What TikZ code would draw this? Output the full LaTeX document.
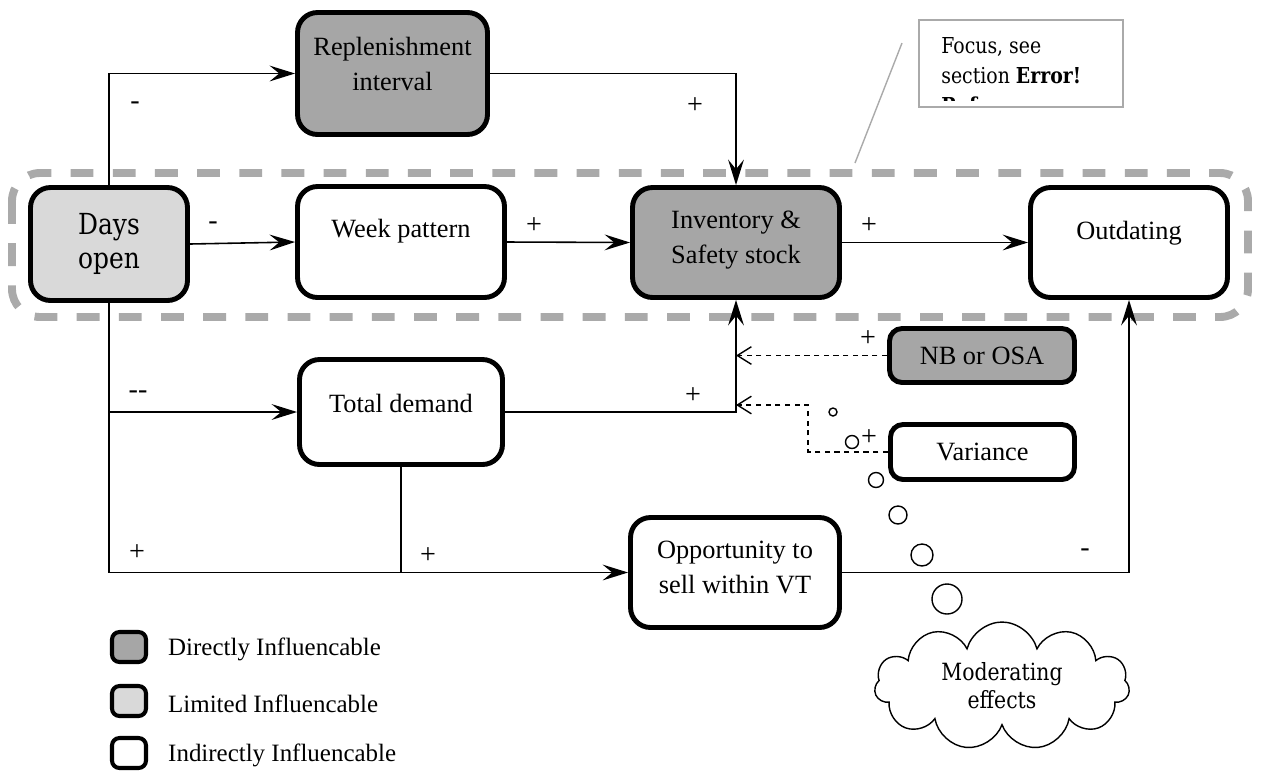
\documentclass[tikz,border=0pt]{standalone}
\usepackage{fontspec}
\setmainfont{Liberation Serif}
\newfontfamily\cambria[FakeStretch=0.86]{DejaVu Serif}
\usepackage{xcolor}
\usetikzlibrary{arrows.meta,shapes,positioning,calc}

\definecolor{dgrey}{HTML}{A6A6A6}
\definecolor{lgrey}{HTML}{D9D9D9}
\definecolor{fgrey}{HTML}{AAAAAA}

\begin{document}
\begin{tikzpicture}[x=0.02cm, y=-0.02cm,
    box/.style={draw, line width=2.8pt, rounded corners=0.4cm, align=center, inner sep=0pt, font=\fontsize{15}{20}\selectfont},
    direct/.style={box, fill=dgrey},
    limited/.style={box, fill=lgrey},
    indirect/.style={box, fill=white},
    flow/.style={-{Stealth[length=14.5pt,width=9pt,inset=5.5pt]}, line width=0.9pt},
    plain/.style={line width=0.9pt},
    moder/.style={-{Straight Barb[length=8pt,width=10pt]}, line width=0.8pt, dash pattern=on 3pt off 2.5pt},
    sign/.style={font=\fontsize{16}{18}\selectfont, inner sep=0pt},
    legbox/.style={line width=2.3pt, rounded corners=0.15cm, minimum width=0.68cm, minimum height=0.6cm},
    bubble/.style={line width=0.8pt, fill=white}]
    \useasboundingbox (0,0) rectangle (1261,772);

    % Focus area
    \draw[fgrey, line width=4.5pt, dash pattern=on 13pt off 11pt, rounded corners=0.56cm] (12,173) rectangle (1248,317);

    % Comment box
    \draw[fgrey, line width=0.8pt] (919,20) rectangle (1123,107);
    \coordinate (callout) at (902,43);
    \coordinate (calltip) at (855,163);
    \draw[fgrey, line width=0.8pt] (callout) -- (calltip);
    \begin{scope}
        \clip (920,21) rectangle (1122,100);
        \node[anchor=north west, inner sep=0pt, align=left, font=\cambria\fontsize{12.5}{17}\selectfont] (focus) at (941,37) {Focus, see\\section \textbf{Error!}\\\textbf{Reference}\\\textbf{source not found.}};
    \end{scope}

    % Factors
    \node[direct, minimum width=3.8cm, minimum height=2.44cm] (rep) at (392.5,73.5) {Replenishment\\interval\\[-8.7pt]\mbox{}};
    \node[limited, minimum width=3.14cm, minimum height=2.26cm, font=\cambria\fontsize{16.5}{19}\selectfont] (days) at (109,244) {Days\\open};
    \node[indirect, minimum width=4.14cm, minimum height=2.22cm] (week) at (401,242) {Week pattern\\[-4.1pt]\mbox{}};
    \node[direct, minimum width=4.14cm, minimum height=2.2cm] (inv) at (736,242.5) {Inventory \&\\Safety stock\\[-14.3pt]\mbox{}};
    \node[indirect, minimum width=3.94cm, minimum height=2.2cm] (out) at (1129,242.5) {Outdating\\[-6.4pt]\mbox{}};
    \node[indirect, minimum width=4.06cm, minimum height=2.1cm] (total) at (401,412) {Total demand\\[-9.8pt]\mbox{}};
    \node[indirect, minimum width=4.18cm, minimum height=2.2cm] (opp) at (735,572.5) {Opportunity to\\sell within VT\\[-14.3pt]\mbox{}};
    \node[direct, minimum width=3.7cm, minimum height=1.08cm, rounded corners=0.25cm] (nb) at (982,355.5) {NB or OSA};
    \node[indirect, minimum width=3.68cm, minimum height=1.1cm, rounded corners=0.25cm] (var) at (982.5,452) {Variance};

    % Upper loop
    \draw[flow] (days.north) |- (rep.west);
    \draw[flow] (rep.east) -| (inv.north);

    % Main chain
    \draw[flow] (days.east) -- (week.west);
    \draw[flow] (week.east) -- (inv.west);
    \draw[flow] (inv.east) -- (out.west);

    % Lower branch
    \coordinate (split) at (days.south |- total.west);
    \draw[flow] (split) -- (total.west);
    \draw[flow] (days.south) |- (opp.west);
    \draw[plain] (total.south) -- (total.south |- opp.west);
    \draw[flow] (total.east) -| (inv.south);
    \draw[flow] (opp.east) -| (out.south);

    % Moderating effects
    \draw[moder] (nb.west) -- (nb.west -| inv.south);
    \coordinate (vbend) at (808,405);
    \draw[moder] (var.west) -| (vbend) -- (vbend -| inv.south);

    % Signs
    \foreach \x/\y/\s [count=\i] in {135/106/-, 695/106/+, 213/226/-, 534/226/+, 869/226/+, 138/395/-\kern0pt-, 693/396/+, 868/339/+, 869/438/+, 137/553/+, 428/556/+, 1085/553/-} {
        \node[sign] (sign\i) at (\x,\y) {\s};
    }

    % Thought bubbles
    \foreach \x/\y/\r in {833/412/4, 852/442/6.5, 876/480/7.5, 898/515/9, 922/555/11, 947/599/15} {
        \draw[bubble] (\x,\y) circle[radius=\r];
    }
    \node[cloud, draw, cloud puffs=11, aspect=2, minimum width=5.1cm, minimum height=2.56cm, line width=0.8pt, align=center, inner sep=0pt, font=\cambria\fontsize{13.5}{16}\selectfont] (cloud) at (1002,686) {Moderating\\effects};

    % Legend
    \foreach \sty/\txt/\y [count=\i] in {direct/Directly Influencable/647, limited/Limited Influencable/701, indirect/Indirectly Influencable/753} {
        \node[\sty, legbox] (key\i) at (129,\y) {};
        \node[right=0.28cm of key\i, yshift=-1.5pt, font=\fontsize{14.2}{16}\selectfont] (keytxt\i) {\txt};
    }

\end{tikzpicture}
\end{document}
